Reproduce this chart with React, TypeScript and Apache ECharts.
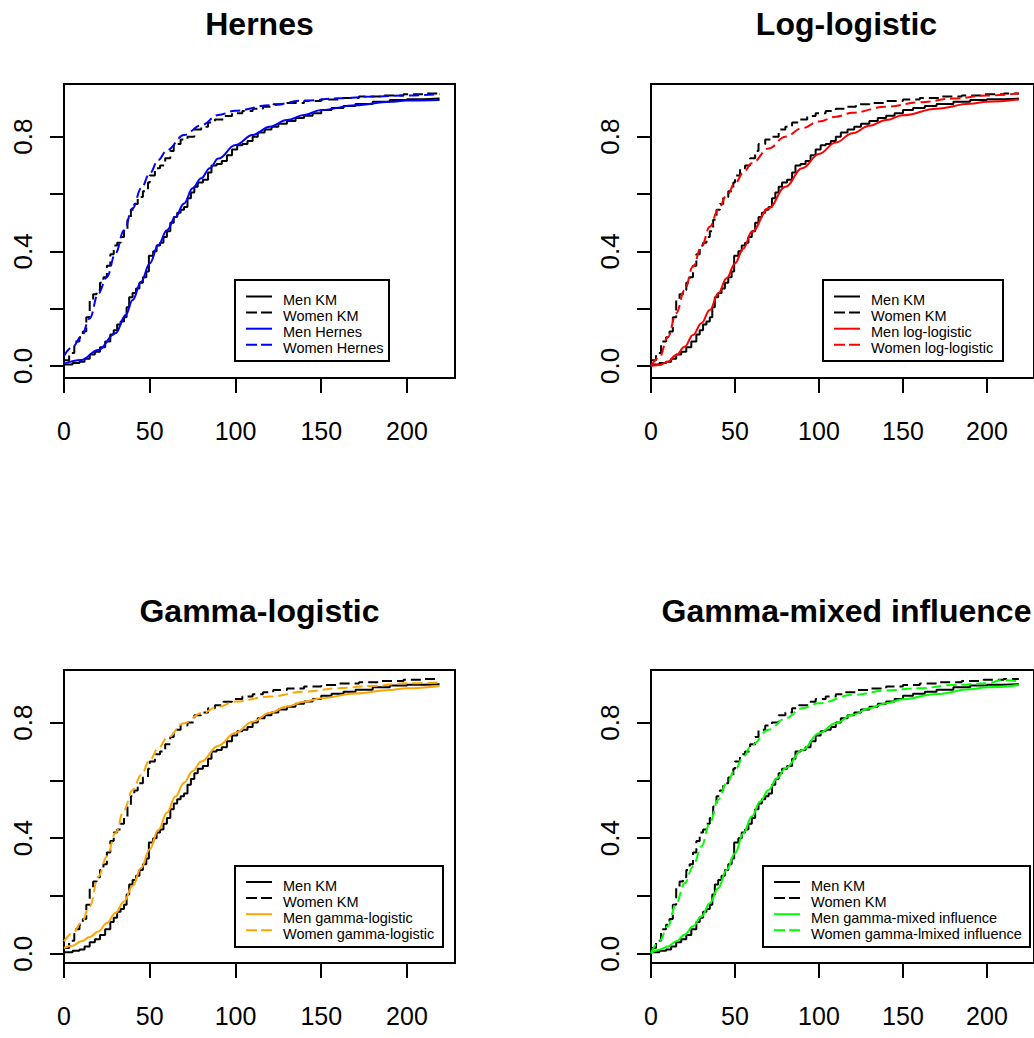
import React, { useEffect, useRef } from "react";
import * as echarts from "echarts";

// ---- Data (time, cumulative proportion) ----
const menKM: number[][] = [
  [0, 0.005], [5, 0.01], [9, 0.015], [12, 0.025], [15, 0.04], [18, 0.05], [21, 0.065], [24, 0.085],
  [27, 0.11], [29, 0.125], [31, 0.145], [33, 0.155], [35, 0.17], [36.5, 0.205], [38, 0.24], [40, 0.255],
  [42, 0.27], [44, 0.29], [46, 0.31], [48, 0.33], [49.5, 0.385], [52, 0.4], [54, 0.42], [56, 0.43],
  [58, 0.45], [60, 0.47], [62, 0.5], [64, 0.52], [66, 0.535], [68, 0.545], [70, 0.555], [72, 0.585],
  [74, 0.605], [76, 0.625], [78, 0.64], [81, 0.65], [84, 0.675], [86, 0.7], [89, 0.705], [92, 0.715],
  [95, 0.735], [98, 0.755], [101, 0.77], [104, 0.775], [107, 0.785], [110, 0.8], [113, 0.815], [117, 0.825],
  [121, 0.835], [125, 0.845], [130, 0.855], [135, 0.865], [140, 0.873], [145, 0.882], [150, 0.893],
  [156, 0.9], [163, 0.907], [170, 0.914], [180, 0.922], [190, 0.928], [200, 0.931], [210, 0.933], [219, 0.933],
];
const womenKM: number[][] = [
  [0, 0.02], [3, 0.045], [6, 0.085], [9, 0.1], [11, 0.12], [13, 0.17], [15, 0.23], [17, 0.25], [19, 0.265],
  [21, 0.29], [23, 0.31], [25, 0.35], [27, 0.39], [29, 0.42], [31, 0.43], [33, 0.45], [35, 0.47], [37, 0.51],
  [39, 0.545], [41, 0.565], [43, 0.59], [46, 0.61], [49, 0.64], [50, 0.665], [53, 0.69], [56, 0.7],
  [59, 0.725], [62, 0.75], [64, 0.775], [68, 0.79], [72, 0.8], [76, 0.825], [80, 0.835], [84, 0.85],
  [88, 0.86], [93, 0.872], [98, 0.882], [104, 0.89], [110, 0.898], [116, 0.905], [122, 0.913], [130, 0.918],
  [140, 0.925], [150, 0.93], [160, 0.935], [172, 0.94], [185, 0.944], [198, 0.948], [210, 0.951], [219, 0.951],
];
const menHernes: number[][] = [
  [0, 0.008], [10, 0.021], [20, 0.056], [30, 0.114], [36, 0.178], [40, 0.23], [45, 0.294], [50, 0.358],
  [55, 0.422], [60, 0.474], [65, 0.52], [70, 0.567], [75, 0.62], [80, 0.655], [85, 0.69], [90, 0.724],
  [100, 0.771], [110, 0.806], [120, 0.835], [130, 0.858], [140, 0.876], [150, 0.893], [170, 0.91],
  [190, 0.922], [200, 0.926], [219, 0.928],
];
const womenHernes: number[][] = [
  [0, 0.035], [5, 0.067], [10, 0.1], [15, 0.166], [20, 0.253], [25, 0.31], [30, 0.393], [35, 0.474],
  [40, 0.55], [45, 0.62], [50, 0.672], [55, 0.719], [60, 0.753], [70, 0.806], [80, 0.84], [90, 0.876],
  [100, 0.891], [120, 0.91], [140, 0.926], [160, 0.934], [180, 0.94], [200, 0.944], [219, 0.948],
];
const menLogLogistic: number[][] = [
  [0, 0], [5, 0.003], [10, 0.015], [15, 0.038], [20, 0.067], [25, 0.108], [30, 0.149], [35, 0.195],
  [40, 0.253], [45, 0.306], [50, 0.358], [55, 0.41], [60, 0.468], [70, 0.55], [80, 0.625], [90, 0.69],
  [100, 0.74], [110, 0.78], [120, 0.812], [130, 0.838], [140, 0.858], [150, 0.875], [170, 0.898],
  [190, 0.915], [200, 0.922], [219, 0.93],
];
const womenLogLogistic: number[][] = [
  [0, 0], [5, 0.03], [10, 0.1], [15, 0.184], [20, 0.265], [25, 0.347], [30, 0.416], [35, 0.486],
  [40, 0.545], [45, 0.595], [50, 0.637], [55, 0.675], [60, 0.707], [70, 0.759], [80, 0.8], [90, 0.83],
  [100, 0.853], [110, 0.87], [120, 0.884], [140, 0.905], [160, 0.92], [180, 0.933], [200, 0.944], [219, 0.951],
];
const menGammaLogistic: number[][] = [
  [0, 0.02], [5, 0.028], [10, 0.043], [15, 0.058], [20, 0.077], [25, 0.106], [30, 0.141], [35, 0.181],
  [40, 0.235], [45, 0.297], [50, 0.362], [55, 0.428], [60, 0.488], [65, 0.544], [70, 0.592], [75, 0.632],
  [80, 0.665], [90, 0.72], [100, 0.765], [110, 0.803], [120, 0.834], [130, 0.856], [140, 0.872],
  [150, 0.884], [170, 0.901], [190, 0.913], [200, 0.919], [219, 0.927],
];
const womenGammaLogistic: number[][] = [
  [0, 0.043], [5, 0.071], [10, 0.106], [15, 0.164], [20, 0.267], [25, 0.337], [30, 0.417], [35, 0.498],
  [40, 0.567], [45, 0.619], [50, 0.671], [55, 0.711], [60, 0.746], [70, 0.798], [80, 0.832], [90, 0.855],
  [100, 0.873], [120, 0.89], [140, 0.907], [160, 0.919], [180, 0.927], [200, 0.936], [219, 0.939],
];
const menGammaMixed: number[][] = [
  [0, 0.002], [5, 0.014], [10, 0.025], [15, 0.043], [20, 0.066], [25, 0.095], [30, 0.129], [35, 0.175],
  [40, 0.227], [45, 0.29], [50, 0.348], [55, 0.417], [60, 0.475], [65, 0.527], [70, 0.567], [75, 0.607],
  [80, 0.642], [90, 0.705], [100, 0.763], [110, 0.798], [120, 0.827], [130, 0.85], [140, 0.867],
  [150, 0.881], [170, 0.899], [190, 0.915], [200, 0.922], [219, 0.93],
];
const womenGammaMixed: number[][] = [
  [0, 0.002], [5, 0.043], [10, 0.095], [15, 0.175], [20, 0.244], [25, 0.302], [30, 0.371], [35, 0.452],
  [40, 0.533], [45, 0.59], [50, 0.636], [55, 0.682], [60, 0.723], [70, 0.775], [80, 0.815], [90, 0.85],
  [100, 0.867], [120, 0.896], [140, 0.911], [160, 0.919], [180, 0.93], [200, 0.936], [210, 0.948], [219, 0.942],
];

const xTicks = [0, 50, 100, 150, 200];
const yTicks = [0, 0.2, 0.4, 0.6, 0.8];
const yLabels = [0, 0.4, 0.8];

const panelTitles = ["Hernes", "Log-logistic", "Gamma-logistic", "Gamma-mixed influence"];
const modelColors = ["#0000FF", "#FF0000", "#FFA500", "#00FF00"];
const legendNames = [
  ["Men KM", "Women KM", "Men Hernes", "Women Hernes"],
  ["Men KM", "Women KM", "Men log-logistic", "Women log-logistic"],
  ["Men KM", "Women KM", "Men gamma-logistic", "Women gamma-logistic"],
  ["Men KM", "Women KM", "Men gamma-mixed influence", "Women gamma-lmixed influence"],
];
const modelMen = [menHernes, menLogLogistic, menGammaLogistic, menGammaMixed];
const modelWomen = [womenHernes, womenLogLogistic, womenGammaLogistic, womenGammaMixed];

// ---- Layout ----
const FONT = '"Liberation Sans", Arial, Helvetica, sans-serif';
const grids = [
  { left: 64, top: 84, width: 391, height: 294, ymin: -0.042, ymax: 0.984 },
  { left: 651, top: 84, width: 391, height: 294, ymin: -0.042, ymax: 0.984 },
  { left: 64, top: 670, width: 391, height: 293, ymin: -0.032, ymax: 0.982 },
  { left: 651, top: 670, width: 391, height: 293, ymin: -0.032, ymax: 0.982 },
];
const legendBoxes = [
  { x: 235, y: 280, w: 154, h: 81, rowY: 296.5 },
  { x: 823, y: 280, w: 180, h: 81, rowY: 296.5 },
  { x: 235, y: 866, w: 208, h: 81, rowY: 882 },
  { x: 763, y: 866, w: 267, h: 81, rowY: 882 },
];
const titleY = [23.5, 23.5, 611, 611];
const DASH = [10, 5];

export default function App() {
  const ref = useRef<HTMLDivElement>(null);
  useEffect(() => {
    document.body.style.margin = "0";
    document.body.style.overflow = "hidden";
    const chart = echarts.init(ref.current!, undefined, { renderer: "svg" });

    const grid: any[] = [];
    const xAxis: any[] = [];
    const yAxis: any[] = [];
    const series: any[] = [];
    const graphic: any[] = [];

    grids.forEach((g, i) => {
      grid.push({
        left: g.left, top: g.top, width: g.width, height: g.height,
        show: true, borderColor: "#000", borderWidth: 2, backgroundColor: "transparent",
      });
      xAxis.push({
        type: "value", gridIndex: i, min: 0, max: 228,
        axisLine: { show: false, onZero: false },
        splitLine: { show: false },
        axisTick: { show: true, length: 15, customValues: xTicks, lineStyle: { color: "#000", width: 2 } },
        axisLabel: {
          show: true, customValues: xTicks, margin: 40, fontSize: 25, fontFamily: FONT, color: "#000",
          hideOverlap: false,
          formatter: (v: number) => String(v),
        },
      });
      yAxis.push({
        type: "value", gridIndex: i, min: g.ymin, max: g.ymax,
        axisLine: { show: false, onZero: false },
        splitLine: { show: false },
        axisTick: { show: true, length: 14, customValues: yTicks, lineStyle: { color: "#000", width: 2 } },
        axisLabel: {
          show: true, customValues: yLabels, rotate: 90, margin: 28, fontSize: 26, fontFamily: FONT,
          color: "#000", formatter: (v: number) => v.toFixed(1),
        },
      });
      const names = legendNames[i];
      series.push(
        { name: names[0], type: "line", xAxisIndex: i, yAxisIndex: i, data: menKM, step: "end", showSymbol: false, symbol: "none", lineStyle: { color: "#000", width: 2 } },
        { name: names[1], type: "line", xAxisIndex: i, yAxisIndex: i, data: womenKM, step: "end", showSymbol: false, symbol: "none", lineStyle: { color: "#000", width: 2, type: DASH } },
        { name: names[2], type: "line", xAxisIndex: i, yAxisIndex: i, data: modelMen[i], smooth: 0.4, smoothMonotone: "x", showSymbol: false, symbol: "none", lineStyle: { color: modelColors[i], width: 2 } },
        { name: names[3], type: "line", xAxisIndex: i, yAxisIndex: i, data: modelWomen[i], smooth: 0.4, smoothMonotone: "x", showSymbol: false, symbol: "none", lineStyle: { color: modelColors[i], width: 2, type: DASH } },
      );

      // title
      graphic.push({
        type: "text", x: g.left + g.width / 2, y: titleY[i],
        style: { text: panelTitles[i], font: `bold 32px ${FONT}`, fill: "#000", textAlign: "center", textVerticalAlign: "middle" },
      });
      // legend
      const lb = legendBoxes[i];
      graphic.push({
        type: "rect", shape: { x: lb.x, y: lb.y, width: lb.w, height: lb.h },
        style: { fill: "#fff", stroke: "#000", lineWidth: 2 }, z: 100,
      });
      const colors = ["#000", "#000", modelColors[i], modelColors[i]];
      names.forEach((nm, k) => {
        const ry = lb.rowY + k * 16.1;
        graphic.push({
          type: "line", shape: { x1: lb.x + 11, y1: ry, x2: lb.x + 37, y2: ry },
          style: { stroke: colors[k], lineWidth: 2, lineDash: k % 2 === 1 ? [11, 4] : null }, z: 101,
        });
        graphic.push({
          type: "text", x: lb.x + 48, y: ry + 3.5,
          style: { text: nm, font: `14.5px ${FONT}`, fill: "#000", textAlign: "left", textVerticalAlign: "middle" }, z: 101,
        });
      });
    });

    chart.setOption({
      animation: false,
      backgroundColor: "#fff",
      grid, xAxis, yAxis, series, graphic,
    });
    return () => chart.dispose();
  }, []);
  return <div ref={ref} style={{ width: 1034, height: 1038, position: "absolute", left: 0, top: 0 }} />;
}
